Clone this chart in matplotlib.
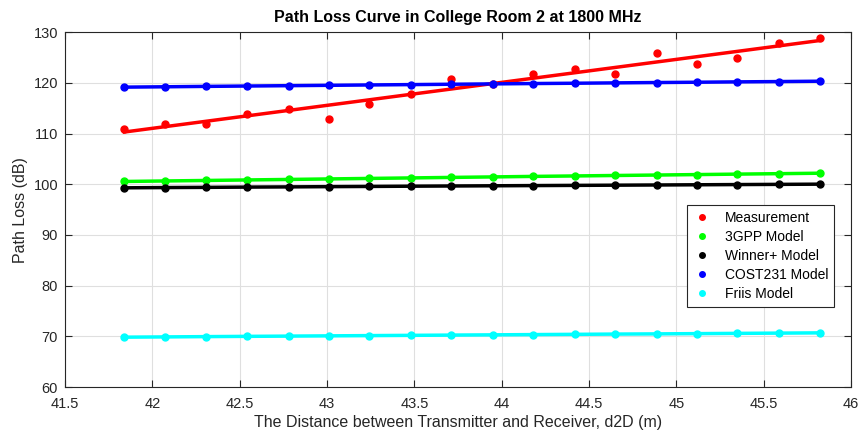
import matplotlib
matplotlib.use('agg')
import matplotlib.pyplot as plt
import numpy as np

plt.rcParams['font.family'] = ['Liberation Sans', 'DejaVu Sans']

# distance between Tx and Rx (m)
distance = [41.84, 42.07, 42.31, 42.54, 42.78, 43.01, 43.24, 43.48, 43.71, 43.95,
            44.18, 44.42, 44.65, 44.89, 45.12, 45.35, 45.59, 45.82]

measurement = [110.8, 111.9, 111.9, 113.8, 114.9, 112.8, 115.9, 117.8, 120.8, 119.8,
               121.8, 122.8, 121.8, 125.8, 123.8, 124.8, 127.8, 128.8]
model_3gpp = [100.55, 100.65, 100.75, 100.85, 100.95, 101.05, 101.15, 101.25, 101.35,
              101.45, 101.55, 101.64, 101.73, 101.82, 101.91, 102.0, 102.09, 102.18]
model_winner = [99.3, 99.35, 99.39, 99.44, 99.48, 99.53, 99.57, 99.62, 99.66,
                99.7, 99.74, 99.78, 99.82, 99.86, 99.9, 99.94, 99.98, 100.02]
model_cost231 = [119.15, 119.22, 119.3, 119.37, 119.44, 119.51, 119.58, 119.65, 119.72,
                 119.79, 119.86, 119.92, 119.99, 120.06, 120.12, 120.19, 120.25, 120.32]
model_friis = [69.85, 69.9, 69.96, 70.01, 70.06, 70.11, 70.16, 70.21, 70.26,
               70.31, 70.36, 70.41, 70.46, 70.5, 70.55, 70.6, 70.65, 70.7]

labels = ['Measurement', '3GPP Model', 'Winner+ Model', 'COST231 Model', 'Friis Model']
colors = ['#ff0000', '#00ff00', '#000000', '#0000ff', '#00ffff']

x = np.array(distance)
fit = np.polyfit(x, measurement, 1)

fig = plt.figure(figsize=(8.67, 4.34), dpi=100)
ax = fig.add_axes([0.075, 0.108, 0.9065, 0.818])

series = [measurement, model_3gpp, model_winner, model_cost231, model_friis]
for s, lab, c in zip(series, labels, colors):
    ax.plot(x, s, 'o', color=c, markersize=5, label=lab, zorder=3)

# curves
ax.plot(x, np.polyval(fit, x), '-', color=colors[0], lw=2.5, zorder=2)
for s, c in zip(series[1:], colors[1:]):
    ax.plot(x, s, '-', color=c, lw=2.5, zorder=2)

ax.set_xlim(41.5, 46)
ax.set_ylim(60, 130)
ax.set_xticks(np.arange(41.5, 46.01, 0.5))
ax.set_xticklabels(['41.5', '42', '42.5', '43', '43.5', '44', '44.5', '45', '45.5', '46'])
ax.set_yticks(np.arange(60, 131, 10))
ax.grid(True, color='#dfdfdf', lw=0.8)
ax.set_axisbelow(True)
ax.tick_params(direction='in', top=True, right=True, labelsize=10.5,
               colors='#262626', length=5)
ax.tick_params(axis='x', pad=7)
ax.tick_params(axis='y', pad=5)
for sp in ax.spines.values():
    sp.set_color('#262626')
    sp.set_linewidth(0.8)

ax.set_title('Path Loss Curve in College Room 2 at 1800 MHz', fontsize=11.5,
             fontweight='bold', pad=7)
ax.set_xlabel('The Distance between Transmitter and Receiver, d2D (m)', fontsize=11.5,
              color='#262626', labelpad=3)
ax.set_ylabel('Path Loss (dB)', fontsize=11.5, color='#262626')

leg = ax.legend(loc='lower right', bbox_to_anchor=(0.979, 0.226), fontsize=10,
                fancybox=False, framealpha=1, edgecolor='#262626',
                handlelength=1.3, handletextpad=1.0, borderpad=0.45,
                labelspacing=0.35, markerscale=0.8, borderaxespad=0)
leg.get_frame().set_linewidth(0.8)

fig.savefig('out.png', dpi=100)
